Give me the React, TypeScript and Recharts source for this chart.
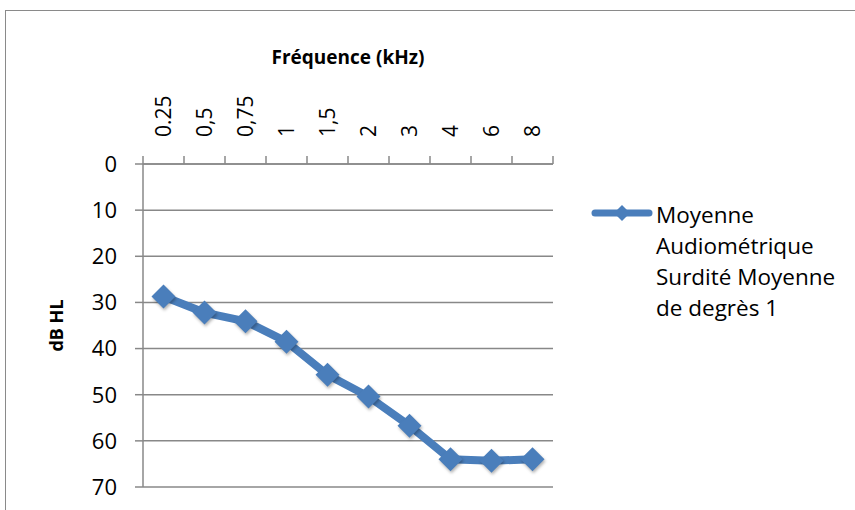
import { LineChart, Line, XAxis, YAxis, CartesianGrid, Legend } from "recharts"

const frequencies = ["0.25", "0,5", "0,75", "1", "1,5", "2", "3", "4", "6", "8"]
const hearingLevels = [28.7, 32.2, 34.1, 38.5, 45.7, 50.4, 56.7, 64.0, 64.3, 64.0]
const dbTicks = [0, 10, 20, 30, 40, 50, 60, 70]
const seriesName = "Moyenne Audiométrique Surdité Moyenne de degrès 1"

const data = frequencies.map((f, i) => ({ freq: f, level: hearingLevels[i] }))

const FONT = "'Open Sans', sans-serif"
const GRID = "#888888"
const BLUE = "#4a7ebb"
const BAND = 41 // plot width / number of categories

const diamond = (cx: number, cy: number, r: number) =>
  `${cx},${cy - r} ${cx + r},${cy} ${cx},${cy + r} ${cx - r},${cy}`

// top axis tick: rotated label + tick marks between categories (Excel style)
const FreqTick = (props: any) => {
  const { x, y, payload, index, visibleTicksCount } = props
  const base = y + 27
  return (
    <g>
      <line x1={x - BAND / 2} x2={x - BAND / 2} y1={base} y2={base - 8} stroke={GRID} strokeWidth={1.5} />
      {index === visibleTicksCount - 1 && (
        <line x1={x + BAND / 2} x2={x + BAND / 2} y1={base} y2={base - 8} stroke={GRID} strokeWidth={1.5} />
      )}
      <text
        transform={`translate(${x},${y}) rotate(-90)`}
        dy="0.35em"
        textAnchor="start"
        fontSize={21}
        fontFamily={FONT}
        fill="#000"
      >
        {payload.value}
      </text>
    </g>
  )
}

const DiamondDot = (p: any) => (
  <polygon
    key={`dot-${p.index}`}
    points={diamond(p.cx, p.cy, 12)}
    fill={BLUE}
    style={{ filter: "drop-shadow(1px 2px 1.5px rgba(0,0,0,0.3))" }}
  />
)

const LegendBox = () => (
  <div style={{ display: "flex", alignItems: "flex-start", fontFamily: FONT, color: "#000" }}>
    <svg width={68} height={30}>
      <line x1={7} x2={61} y1={14} y2={14} stroke={BLUE} strokeWidth={7} strokeLinecap="round" />
      <polygon points={diamond(34, 14, 8)} fill={BLUE} />
    </svg>
    <div style={{ width: 196, fontSize: 22.5, lineHeight: "31px" }}>{seriesName}</div>
  </div>
)

export default function App() {
  return (
    <div style={{ position: "absolute", left: 0, top: 0, width: 855, height: 510, overflow: "hidden", background: "#fff" }}>
      <div style={{ position: "absolute", left: 5, top: 10, width: 855, height: 520, border: "1.5px solid #8a8a8a" }} />
      <div style={{ position: "absolute", left: 0, top: 0 }}>
        <LineChart width={855} height={510} data={data} margin={{ top: 0, right: 302, bottom: 23, left: 0 }}>
          <CartesianGrid horizontal vertical={false} stroke={GRID} strokeWidth={1.5} />
          <XAxis
            dataKey="freq"
            orientation="top"
            height={164}
            interval={0}
            padding={{ left: BAND / 2, right: BAND / 2 }}
            tickLine={false}
            tickSize={0}
            tickMargin={27}
            axisLine={{ stroke: GRID, strokeWidth: 1.5 }}
            tick={<FreqTick />}
            label={{
              value: "Fréquence (kHz)",
              position: "insideTop",
              offset: 51,
              style: { fontFamily: FONT, fontSize: 19, fontWeight: 700, fill: "#000" },
            }}
          />
          <YAxis
            type="number"
            domain={[0, 70]}
            ticks={dbTicks}
            reversed
            width={143}
            tickSize={8}
            tickMargin={18}
            axisLine={{ stroke: GRID, strokeWidth: 1.5 }}
            tickLine={{ stroke: GRID, strokeWidth: 1.5 }}
            tick={{ fontSize: 22, fontFamily: FONT, fill: "#000" }}
            label={{
              content: (p: any) => {
                const vb = p.viewBox
                const cx = 57
                const cy = vb.y + vb.height / 2
                return (
                  <text
                    transform={`translate(${cx},${cy}) rotate(-90)`}
                    textAnchor="middle"
                    dy="0.35em"
                    fontFamily={FONT}
                    fontSize={18}
                    fontWeight={700}
                    fill="#000"
                  >
                    dB HL
                  </text>
                )
              },
            }}
          />
          <Legend
            layout="vertical"
            align="center"
            verticalAlign="middle"
            wrapperStyle={{ left: 588, top: 199, width: 266 }}
            content={<LegendBox />}
          />
          <Line
            type="linear"
            dataKey="level"
            name={seriesName}
            stroke={BLUE}
            strokeWidth={8}
            dot={DiamondDot}
            activeDot={false}
            isAnimationActive={false}
          />
        </LineChart>
      </div>
    </div>
  )
}
